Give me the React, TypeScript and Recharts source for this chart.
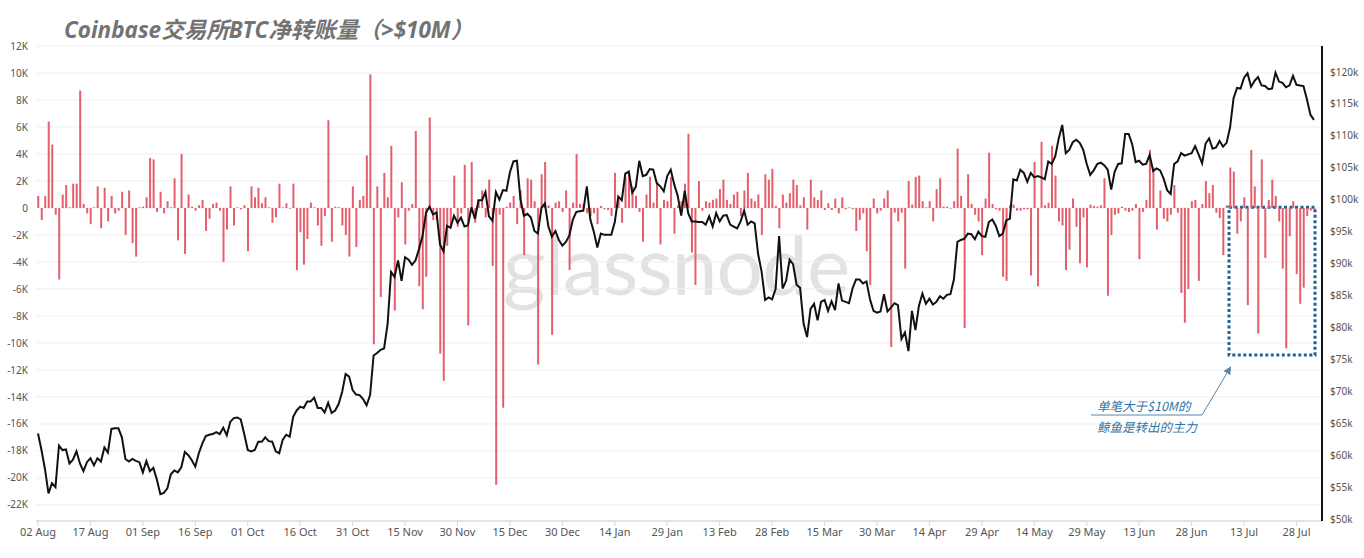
import React from "react";
import { Bar, CartesianGrid, ComposedChart, Line, ReferenceArea, XAxis, YAxis } from "recharts";

// net transfer volume (>$10M) per day, in thousands of BTC, starting 02 Aug 2024
const flowAug24 = [0.9, -0.9, 0.9, 6.4, 4.7, -0.5, -5.3, 1.0, 1.7, 0.05, 1.8, 1.8, 8.7, 0.3, -0.4, -1.2, 0.05, 1.6, -1.5, 1.5, -1.0, 0.9, -0.4, -0.2, 1.2, -2.0, 1.3, -2.6, -3.6, 0.05];
const flowSep24 = [0.1, 0.8, 3.7, 3.6, -0.3, 1.2, -0.4, 0.5, 0.05, 2.2, -2.4, 4.0, -3.4, 1.0, 0.1, -0.2, 0.2, 0.6, -1.7, -0.8, 0.3, 0.4, -0.2, -4.0, -1.6, 1.6, -1.3, 0.05, -0.1, 0.2];
const flowOct24 = [-3.2, 1.6, 0.8, 1.5, 0.35, 0.8, 0.05, -1.1, -0.7, 1.8, 0.05, 0.35, -0.05, 1.8, -4.6, -1.8, -4.2, -2.3, 0.4, 0.05, -1.3, -2.8, -0.6, 6.5, -2.5, 0.1, 0.05, -1.3, -2.0, -3.6, 1.6];
const flowNov24 = [-2.9, 0.6, 0.9, 3.9, 9.9, -10.1, 1.6, -6.6, 2.6, 0.8, 4.6, -7.6, -0.7, 1.9, -2.7, -0.2, 0.3, 5.7, -5.8, -7.5, -5.1, 6.7, -0.9, -0.9, -10.8, -12.8, -2.8, -1.4, 2.4, -1.4];
const flowDec24 = [-0.4, 3.2, -8.7, 3.4, -1.1, 0.6, 1.3, -0.7, 2.1, -4.3, -20.5, -0.5, -14.8, 0.1, 0.4, 0.9, -1.2, 1.3, -3.5, 2.2, 2.1, 0.5, -11.6, 2.5, 3.4, 0.2, -9.4, 0.4, 0.5, -0.3, 1.3];
const flowJan25 = [-4.6, 0.4, 4.0, 0.3, 0.3, -0.4, -0.6, -0.4, -1.2, 0.15, -0.1, -0.15, -0.6, 2.6, 0.6, -1.1, 2.3, 2.7, 1.6, 0.9, -0.3, -2.5, 1.0, 2.3, 0.4, 1.9, -2.7, 0.6, 0.5, 2.3, -1.9];
const flowFeb25 = [0.2, 0.5, 1.8, 5.5, -3.3, -5.7, 2.0, -0.2, 0.5, 0.4, 0.6, 0.7, 1.4, 2.1, 0.6, 0.3, 1.0, 1.2, -0.6, 1.3, 2.6, 0.7, 0.5, 1.0, -2.0, 2.5, 2.1, 2.9];
const flowMar25 = [0.15, -1.5, 1.0, 0.4, 1.1, 2.1, 1.7, 0.2, 0.8, -1.6, 2.1, 0.8, 0.6, 1.3, -0.15, 0.35, -0.15, 0.7, -0.4, 0.8, -0.1, 0.05, -0.1, -1.7, -0.9, -0.4, -3.2, -5.7, 0.7, -0.4, -0.2];
const flowApr25 = [0.7, 1.3, -10.3, -0.35, -1.0, -0.35, -4.5, 2.0, 0.25, 2.3, 2.4, 0.5, 0.05, 0.5, -1.0, 1.4, 2.2, 0.1, 0.1, -0.05, 0.5, 4.4, 0.9, -8.9, 2.5, 0.3, -0.5, -1.0, -3.5, 0.7];
const flowMay25 = [4.1, 0.3, -0.1, -0.2, -5.1, -5.4, 0.2, 0.25, -0.2, -0.2, -0.1, -0.1, -5.0, 3.4, -5.8, 4.9, 0.2, 0.4, 4.6, 2.4, -1.0, -1.3, -4.6, -3.1, 0.7, -1.4, -4.1, -0.7, -4.4, 0.25, 0.15];
const flowJun25 = [0.1, 0.2, 2.2, -6.5, -2.0, -0.5, -0.4, 0.1, -0.2, -0.3, -0.2, 0.3, -3.8, -0.3, 0.6, 4.3, 3.0, -1.6, 1.3, -0.8, -1.0, -0.5, 1.7, -0.35, -6.3, -8.5, -6.0, 0.5, 0.6, -5.4];
const flowJul25 = [0.3, 2.0, 1.1, 1.7, -0.35, -0.75, -3.5, 0.2, 3.0, 2.7, -1.9, -1.0, 0.8, -7.2, 4.3, 1.6, -9.3, 3.6, -3.7, 0.6, 2.1, 0.9, -1.0, -4.5, -10.4, -2.1, 0.5, -4.9, -7.1, -5.9, -0.6];
const flowAug25 = [-0.2, -0.1];

// BTC price, $k
const priceAug24 = [63.4, 60.8, 57.8, 54.0, 55.6, 55.0, 61.5, 60.8, 60.9, 58.7, 59.3, 60.6, 58.7, 57.5, 58.9, 59.5, 58.4, 59.5, 59.0, 61.2, 60.4, 64.1, 64.2, 64.2, 62.8, 59.4, 59.0, 59.4, 59.1, 58.9];
const priceSep24 = [57.3, 59.1, 57.5, 58.0, 56.2, 53.9, 54.1, 54.8, 57.0, 57.6, 57.3, 58.1, 60.5, 60.0, 59.2, 58.2, 60.3, 61.8, 63.0, 63.2, 63.3, 63.6, 63.3, 64.3, 63.1, 65.2, 65.8, 65.9, 65.6, 63.3];
const priceOct24 = [60.8, 60.6, 60.8, 62.1, 62.1, 62.8, 62.2, 62.1, 60.6, 60.3, 62.4, 63.2, 62.9, 66.0, 67.0, 67.6, 67.4, 68.4, 68.4, 69.0, 67.4, 67.4, 66.7, 68.2, 66.6, 67.0, 68.0, 69.9, 72.7, 72.3, 70.2];
const priceNov24 = [69.5, 69.4, 68.8, 67.8, 69.4, 75.6, 76.0, 76.5, 76.7, 80.5, 88.7, 87.9, 90.5, 87.3, 91.0, 90.6, 89.8, 90.5, 92.3, 94.3, 98.0, 98.9, 97.7, 98.0, 93.0, 91.9, 95.9, 95.6, 97.5, 96.4];
const priceDec24 = [97.2, 95.8, 96.0, 98.8, 97.0, 99.9, 99.9, 101.2, 97.4, 96.7, 101.2, 100.0, 101.5, 101.4, 104.3, 106.0, 106.1, 100.1, 97.5, 97.8, 97.2, 95.1, 94.7, 98.7, 99.4, 95.8, 94.2, 95.1, 93.7, 92.8, 93.4];
const priceJan25 = [94.4, 96.9, 98.1, 98.2, 98.3, 102.1, 96.9, 95.0, 92.5, 94.7, 94.5, 94.5, 94.5, 96.5, 100.5, 99.9, 104.1, 104.4, 101.1, 102.0, 106.1, 103.7, 103.9, 104.8, 104.7, 102.6, 102.1, 101.3, 103.7, 104.7, 102.4];
const priceFeb25 = [100.6, 97.5, 101.4, 97.9, 96.6, 96.6, 96.5, 96.5, 96.1, 97.4, 95.8, 97.9, 96.6, 97.5, 97.6, 96.1, 95.8, 95.5, 96.6, 98.3, 96.1, 96.6, 96.3, 91.5, 88.7, 84.3, 84.7, 84.4];
const priceMar25 = [86.0, 94.3, 86.1, 87.3, 90.6, 89.9, 86.7, 86.2, 80.6, 78.5, 82.9, 83.7, 81.1, 84.0, 84.3, 82.6, 84.1, 82.7, 86.9, 84.2, 84.0, 83.8, 86.1, 87.5, 87.5, 86.9, 87.2, 84.4, 82.6, 82.3, 82.5];
const priceApr25 = [85.2, 82.5, 83.1, 83.8, 83.5, 78.2, 79.2, 76.3, 82.6, 79.6, 83.4, 85.3, 83.7, 84.5, 83.6, 84.0, 84.9, 84.5, 85.1, 85.2, 87.5, 93.4, 93.7, 93.9, 94.7, 94.6, 93.8, 95.0, 94.3, 94.2];
const priceMay25 = [96.5, 96.9, 95.9, 94.3, 94.7, 96.8, 97.0, 103.2, 103.0, 104.7, 104.2, 102.8, 104.2, 103.5, 103.7, 103.5, 103.2, 106.0, 105.6, 106.8, 109.6, 111.7, 107.3, 107.8, 109.0, 109.4, 108.9, 107.8, 105.6, 103.9, 104.6];
const priceJun25 = [105.6, 105.8, 105.4, 104.7, 101.6, 104.4, 105.6, 105.7, 110.3, 110.3, 108.7, 105.9, 106.1, 105.5, 105.6, 107.0, 104.5, 104.9, 104.6, 103.3, 101.5, 100.9, 105.6, 106.0, 107.3, 106.9, 107.1, 107.3, 108.4, 107.1];
const priceJul25 = [105.7, 108.8, 109.6, 108.0, 108.2, 109.2, 108.3, 108.9, 111.3, 115.9, 117.5, 117.4, 119.1, 119.8, 117.7, 118.6, 119.2, 117.9, 117.8, 117.3, 117.4, 119.9, 118.5, 118.3, 117.6, 117.9, 119.4, 118.0, 117.9, 117.8, 115.7];
const priceAug25 = [113.3, 112.5];

const tickLabels = ["02 Aug", "17 Aug", "01 Sep", "16 Sep", "01 Oct", "16 Oct", "31 Oct", "15 Nov", "30 Nov", "15 Dec", "30 Dec", "14 Jan", "29 Jan", "13 Feb", "28 Feb", "15 Mar", "30 Mar", "14 Apr", "29 Apr", "14 May", "29 May", "13 Jun", "28 Jun", "13 Jul", "28 Jul"];
const leftTicks = [12, 10, 8, 6, 4, 2, 0, -2, -4, -6, -8, -10, -12, -14, -16, -18, -20, -22];
const rightTicks = [50, 55, 60, 65, 70, 75, 80, 85, 90, 95, 100, 105, 110, 115, 120];

const flows = [...flowAug24, ...flowSep24, ...flowOct24, ...flowNov24, ...flowDec24, ...flowJan25, ...flowFeb25, ...flowMar25, ...flowApr25, ...flowMay25, ...flowJun25, ...flowJul25, ...flowAug25];
const prices = [...priceAug24, ...priceSep24, ...priceOct24, ...priceNov24, ...priceDec24, ...priceJan25, ...priceFeb25, ...priceMar25, ...priceApr25, ...priceMay25, ...priceJun25, ...priceJul25, ...priceAug25];

const data = flows.map((f, i) => ({ day: i, flow: f, price: prices[i] }));
const xTicks = tickLabels.map((_, i) => i * 15);

export default function App() {
  return (
    <div style={{ position: "fixed", left: 0, top: 0, width: 1364, height: 558, background: "#fff", overflow: "hidden", fontFamily: "'Noto Sans', sans-serif" }}>
      <div style={{ position: "absolute", left: 503, top: 222, fontFamily: "Lato, 'Noto Sans', sans-serif", fontSize: 82, color: "#e2e2e2", letterSpacing: -1, lineHeight: 1 }}>
        glassnode
      </div>
      <div style={{ position: "absolute", left: 0, top: 0 }}>
        <ComposedChart width={1364} height={558} data={data} margin={{ top: 46, right: 0, bottom: 0, left: 0 }}>
          <CartesianGrid yAxisId="left" vertical={false} stroke="#efefef" />
          <XAxis
            dataKey="day"
            type="number"
            domain={[-0.57, 367.3]}
            allowDataOverflow
            ticks={xTicks}
            interval={0}
            tickFormatter={(v: number) => tickLabels[v / 15]}
            height={37}
            axisLine={{ stroke: "#d0d0d0" }}
            tickLine={{ stroke: "#d8d8d8" }}
            tickSize={5}
            tick={{ fill: "#555", fontSize: 11 }}
          />
          <YAxis
            yAxisId="left"
            type="number"
            domain={[-23.19, 12]}
            allowDataOverflow
            ticks={leftTicks}
            interval={0}
            width={36}
            axisLine={false}
            tickLine={false}
            tickFormatter={(v: number) => (v === 0 ? "0" : `${v}K`)}
            tick={{ fill: "#555", fontSize: 10 }}
          />
          <YAxis
            yAxisId="right"
            orientation="right"
            type="number"
            domain={[49.69, 124.07]}
            allowDataOverflow
            ticks={rightTicks}
            interval={0}
            width={42}
            axisLine={{ stroke: "#111", strokeWidth: 2 }}
            tickLine={false}
            tickFormatter={(v: number) => `$${v}k`}
            tick={{ fill: "#555", fontSize: 10 }}
          />
          <Bar yAxisId="left" dataKey="flow" barSize={2} fill="#e45f6c" isAnimationActive={false} />
          <Line yAxisId="right" dataKey="price" type="linear" stroke="#111" strokeWidth={2} dot={false} isAnimationActive={false} />
          <ReferenceArea
            yAxisId="left"
            x1={340.7}
            x2={365.3}
            y1={0.05}
            y2={-10.9}
            fill="none"
            fillOpacity={0}
            stroke="#1f6391"
            strokeWidth={3}
            strokeDasharray="3 2.5"
            ifOverflow="visible"
          />
        </ComposedChart>
      </div>
      <div style={{ position: "absolute", left: 64, top: 12, fontSize: 22.5, fontWeight: 700, fontStyle: "italic", color: "#737373", fontFamily: "'Open Sans', 'Noto Sans CJK SC', sans-serif", whiteSpace: "nowrap" }}>
        Coinbase交易所BTC净转账量（&gt;$10M）
      </div>
      <svg width={1364} height={558} style={{ position: "absolute", left: 0, top: 0, pointerEvents: "none" }}>
        <defs>
          <marker id="arr" markerWidth="8" markerHeight="8" refX="6" refY="4" orient="auto">
            <path d="M0,0 L8,4 L0,8 Z" fill="#5b84a8" />
          </marker>
        </defs>
        <polyline points="1091,415 1202,415 1230,368" fill="none" stroke="#5b84a8" strokeWidth={1} markerEnd="url(#arr)" />
        <text x={1097} y={411} fontSize={12.5} fontStyle="italic" fill="#2e74ad" fontFamily="'Noto Sans CJK SC', sans-serif">单笔大于$10M的</text>
        <text x={1097} y={432} fontSize={12.5} fontStyle="italic" fill="#2e74ad" fontFamily="'Noto Sans CJK SC', sans-serif">鲸鱼是转出的主力</text>
      </svg>
    </div>
  );
}
